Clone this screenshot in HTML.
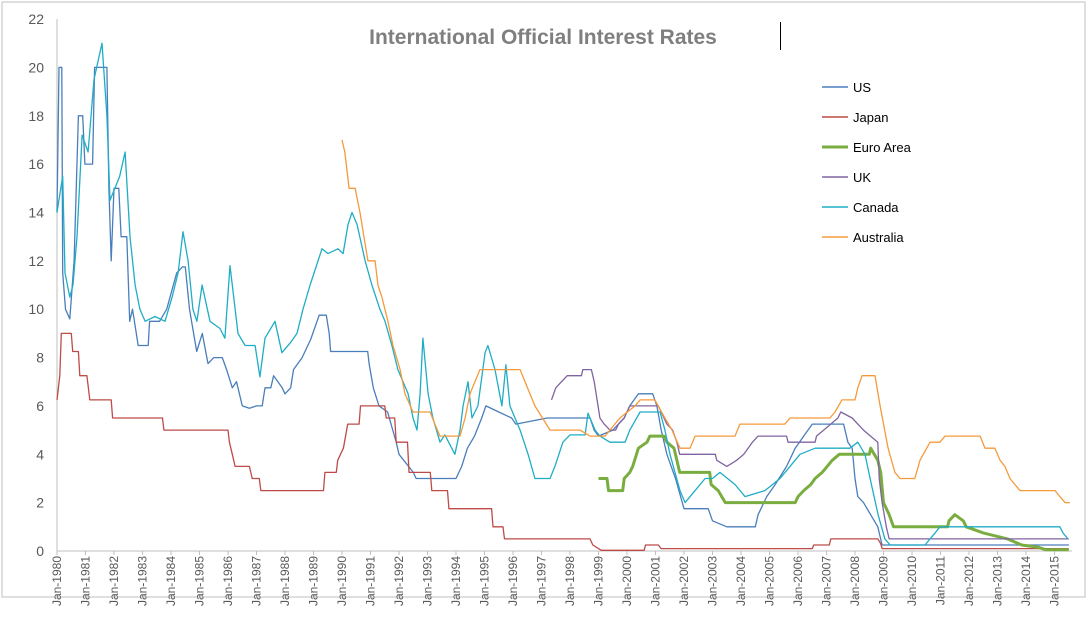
<!DOCTYPE html>
<html><head><meta charset="utf-8">
<style>
body{margin:0;background:#fff;font-family:"Liberation Sans",sans-serif;}
svg{display:block}
</style></head>
<body>
<svg id="chart" width="1089" height="627">
<rect x="2" y="2" width="1083" height="595" fill="#fff" stroke="#bfbfbf"/>
<text x="543" y="44" text-anchor="middle" font-size="21" font-weight="bold" fill="#7f7f7f">International Official Interest Rates</text>
<line x1="780.5" y1="22" x2="780.5" y2="50" stroke="#000" stroke-width="1"/>
<g id="axes"></g><g id="series"></g><g id="legend"></g>
</svg>
<script>
const yTicks=[0,2,4,6,8,10,12,14,16,18,20,22];
const xYears=[];for(let y=1980;y<=2015;y++)xYears.push(y);
const seriesNames=["US","Japan","Euro Area","UK","Canada","Australia"];
const seriesColors=["#4a7ebb","#be4b48","#7aad3f","#8064a2","#1fadc5","#f59a3c"];
const usData=[[1980,14],[1980.07,20],[1980.17,20],[1980.2,11.5],[1980.3,10],[1980.45,9.6],[1980.6,12],[1980.75,18],[1980.9,18],[1980.98,16],[1981.25,16],[1981.32,20],[1981.75,20],[1981.82,15],[1981.9,12],[1982,15],[1982.17,15],[1982.25,13],[1982.45,13],[1982.55,9.5],[1982.65,10],[1982.85,8.5],[1983.2,8.5],[1983.25,9.5],[1983.6,9.5],[1983.85,10],[1984.2,11.5],[1984.4,11.75],[1984.5,11.75],[1984.65,10],[1984.9,8.25],[1985.1,9],[1985.3,7.75],[1985.5,8],[1985.8,8],[1985.95,7.5],[1986.15,6.75],[1986.3,7],[1986.5,6],[1986.75,5.9],[1987,6],[1987.2,6],[1987.3,6.75],[1987.5,6.75],[1987.6,7.25],[1987.9,6.75],[1988,6.5],[1988.2,6.75],[1988.3,7.5],[1988.6,8],[1988.9,8.75],[1989.2,9.75],[1989.45,9.75],[1989.55,9],[1989.6,8.25],[1990.9,8.25],[1990.95,7.75],[1991.1,6.75],[1991.3,6],[1991.6,5.75],[1991.9,4.5],[1992,4],[1992.5,3.25],[1992.6,3],[1994,3],[1994.2,3.5],[1994.4,4.25],[1994.65,4.75],[1994.9,5.5],[1995.05,6],[1995.5,5.75],[1995.95,5.5],[1996.1,5.25],[1997.2,5.5],[1998.7,5.5],[1998.85,5],[1999,4.75],[1999.5,5],[1999.9,5.5],[2000.1,6],[2000.4,6.5],[2000.9,6.5],[2001.05,6],[2001.2,5],[2001.4,4],[2001.7,3],[2002,1.75],[2002.85,1.75],[2003,1.25],[2003.5,1],[2004.5,1],[2004.6,1.5],[2004.9,2.25],[2005.2,2.75],[2005.6,3.5],[2005.9,4.25],[2006.2,4.75],[2006.5,5.25],[2007.6,5.25],[2007.75,4.5],[2007.9,4.25],[2008,3],[2008.1,2.25],[2008.3,2],[2008.8,1],[2008.95,0.25],[2015.5,0.25]];
const japanData=[[1980,6.25],[1980.1,7.25],[1980.15,9],[1980.5,9],[1980.55,8.25],[1980.75,8.25],[1980.8,7.25],[1981.05,7.25],[1981.15,6.25],[1981.9,6.25],[1981.95,5.5],[1983.7,5.5],[1983.75,5],[1986,5],[1986.05,4.5],[1986.15,4],[1986.25,3.5],[1986.75,3.5],[1986.85,3],[1987.1,3],[1987.15,2.5],[1989.35,2.5],[1989.4,3.25],[1989.8,3.25],[1989.85,3.75],[1990.05,4.25],[1990.2,5.25],[1990.6,5.25],[1990.65,6],[1991.5,6],[1991.55,5.5],[1991.85,5.5],[1991.9,4.5],[1992.3,4.5],[1992.35,3.25],[1993.1,3.25],[1993.15,2.5],[1993.7,2.5],[1993.75,1.75],[1995.25,1.75],[1995.3,1],[1995.65,1],[1995.7,0.5],[1998.7,0.5],[1998.8,0.25],[1999.1,0.03],[2000.6,0.03],[2000.65,0.25],[2001.1,0.25],[2001.2,0.1],[2006.5,0.1],[2006.55,0.25],[2007.1,0.25],[2007.15,0.5],[2008.8,0.5],[2008.9,0.3],[2008.95,0.1],[2015.5,0.1]];
const euroData=[[1999,3],[1999.3,3],[1999.35,2.5],[1999.85,2.5],[1999.9,3],[2000.1,3.25],[2000.2,3.5],[2000.4,4.25],[2000.7,4.5],[2000.8,4.75],[2001.3,4.75],[2001.4,4.5],[2001.65,4.25],[2001.75,3.75],[2001.85,3.25],[2002.9,3.25],[2002.95,2.75],[2003.2,2.5],[2003.45,2],[2005.9,2],[2006,2.25],[2006.2,2.5],[2006.45,2.75],[2006.6,3],[2006.85,3.25],[2007.2,3.75],[2007.45,4],[2008.5,4],[2008.55,4.25],[2008.8,3.75],[2008.9,3.25],[2009,2],[2009.2,1.5],[2009.35,1],[2011.25,1],[2011.3,1.25],[2011.5,1.5],[2011.8,1.25],[2011.9,1],[2012.5,0.75],[2013.35,0.5],[2013.85,0.25],[2014.45,0.15],[2014.7,0.05],[2015.5,0.05]];
const ukData=[[1997.35,6.25],[1997.5,6.75],[1997.7,7],[1997.9,7.25],[1998.4,7.25],[1998.45,7.5],[1998.75,7.5],[1998.85,7],[1998.95,6.25],[1999.05,5.5],[1999.2,5.25],[1999.4,5],[1999.6,5],[1999.7,5.25],[1999.9,5.5],[2000.1,6],[2001.1,6],[2001.2,5.75],[2001.4,5.25],[2001.6,5],[2001.75,4.5],[2001.85,4],[2003.1,4],[2003.15,3.75],[2003.5,3.5],[2003.85,3.75],[2004.1,4],[2004.4,4.5],[2004.6,4.75],[2005.6,4.75],[2005.65,4.5],[2006.6,4.5],[2006.65,4.75],[2006.9,5],[2007.4,5.5],[2007.5,5.75],[2007.9,5.5],[2008.1,5.25],[2008.3,5],[2008.8,4.5],[2008.85,3],[2008.95,2],[2009.1,1],[2009.2,0.5],[2015.5,0.5]];
const canadaData=[[1980,14],[1980.2,15.5],[1980.28,11.5],[1980.45,10.5],[1980.56,11],[1980.7,13],[1980.88,17.2],[1981.09,16.5],[1981.3,19.5],[1981.58,21],[1981.75,18],[1981.86,14.5],[1982.03,15],[1982.2,15.5],[1982.39,16.5],[1982.56,13],[1982.74,11],[1982.91,10],[1983.09,9.5],[1983.44,9.7],[1983.79,9.5],[1984.04,10.5],[1984.25,11.5],[1984.42,13.2],[1984.6,12],[1984.77,10],[1984.91,9.5],[1985.09,11],[1985.37,9.5],[1985.72,9.2],[1985.89,8.8],[1986.07,11.8],[1986.35,9],[1986.6,8.5],[1986.95,8.5],[1987.12,7.2],[1987.3,8.8],[1987.65,9.5],[1987.89,8.2],[1988.18,8.6],[1988.42,9],[1988.63,10],[1988.88,11],[1989.3,12.5],[1989.51,12.3],[1989.86,12.5],[1990.04,12.3],[1990.21,13.5],[1990.35,14],[1990.53,13.5],[1990.81,12],[1991.05,11],[1991.33,10],[1991.51,9.5],[1991.75,8.5],[1991.96,7.5],[1992.32,6.5],[1992.49,5.5],[1992.63,5],[1992.74,6.5],[1992.84,8.8],[1993.02,6.5],[1993.19,5.5],[1993.44,4.5],[1993.61,4.8],[1993.96,4],[1994.14,5],[1994.25,6],[1994.42,7],[1994.56,5.5],[1994.77,6],[1995.02,8.2],[1995.12,8.5],[1995.37,7.5],[1995.61,6],[1995.75,7.7],[1995.89,6],[1996.25,5],[1996.53,4],[1996.77,3],[1997.3,3],[1997.47,3.5],[1997.75,4.5],[1998,4.8],[1998.53,4.8],[1998.63,5.7],[1998.88,5],[1999.05,4.75],[1999.4,4.5],[1999.93,4.5],[2000.1,5],[2000.46,5.75],[2001.16,5.75],[2001.33,5],[2001.51,4],[2001.86,2.5],[2002.04,2],[2002.39,2.5],[2002.74,3],[2003,3],[2003.26,3.25],[2003.79,2.75],[2004.14,2.25],[2004.84,2.5],[2005.37,3],[2005.72,3.5],[2006.07,4],[2006.6,4.25],[2007.82,4.25],[2008.1,4.5],[2008.35,4],[2008.53,3],[2008.81,1.5],[2009.05,0.5],[2009.23,0.25],[2010.46,0.25],[2010.63,0.5],[2010.81,0.75],[2010.98,1],[2015.19,1],[2015.3,0.75],[2015.47,0.5]];
const australiaData=[[1990,17],[1990.1,16.5],[1990.25,15],[1990.46,15],[1990.63,14],[1990.77,13],[1990.91,12],[1991.16,12],[1991.26,11],[1991.4,10.5],[1991.61,9.5],[1991.79,8.5],[1992.04,7.5],[1992.21,6.5],[1992.49,5.75],[1993.09,5.75],[1993.26,5.25],[1993.44,4.75],[1994.14,4.75],[1994.32,5.5],[1994.49,6.5],[1994.84,7.5],[1996.25,7.5],[1996.42,7],[1996.77,6],[1997.3,5],[1998.35,5],[1998.7,4.75],[1999.23,4.75],[1999.4,5],[1999.75,5.5],[2000.28,6],[2000.46,6.25],[2000.98,6.25],[2001.33,5.5],[2001.58,5],[2001.86,4.25],[2002.21,4.25],[2002.39,4.75],[2003.79,4.75],[2003.96,5.25],[2005.54,5.25],[2005.72,5.5],[2007.12,5.5],[2007.3,5.75],[2007.54,6.25],[2008,6.25],[2008.1,6.75],[2008.25,7.25],[2008.7,7.25],[2008.88,6],[2009.16,4.25],[2009.4,3.25],[2009.58,3],[2010.1,3],[2010.28,3.75],[2010.63,4.5],[2010.98,4.5],[2011.16,4.75],[2012.39,4.75],[2012.56,4.25],[2012.91,4.25],[2013.09,3.75],[2013.26,3.5],[2013.44,3],[2013.61,2.75],[2013.79,2.5],[2015.02,2.5],[2015.19,2.25],[2015.37,2],[2015.54,2]];
const allSeries=[usData,japanData,euroData,ukData,canadaData,australiaData];

const NS="http://www.w3.org/2000/svg";
const X0=57,PXY=28.5,Y0=551,PXU=24.18;
const xs=y=>X0+(y-1980)*PXY;
const ys=v=>Y0-v*PXU;
function mk(tag,attrs,parent){const e=document.createElementNS(NS,tag);for(const k in attrs)e.setAttribute(k,attrs[k]);parent.appendChild(e);return e;}
const axes=document.getElementById('axes');
const yAxis=mk('line',{x1:X0,y1:ys(22),x2:X0,y2:Y0,stroke:'#bfbfbf'},axes);


const xAxis=mk('line',{x1:X0,y1:Y0,x2:1072,y2:Y0,stroke:'#bfbfbf'},axes);


yTicks.forEach(v=>{
  const t=mk('text',{x:44,y:ys(v)+5,'text-anchor':'end','font-size':14,fill:'#595959'},axes);
  t.textContent=v;
  
  
});
xYears.forEach(y=>{
  const x=xs(y);
  mk('line',{x1:x,y1:Y0,x2:x,y2:Y0+4,stroke:'#bfbfbf'},axes);
  const t=mk('text',{x:0,y:0,'text-anchor':'end','font-size':12,fill:'#595959',transform:`translate(${x+4},${Y0+5}) rotate(-90)`},axes);
  t.textContent='Jan-'+y;
  
  
});
const sg=document.getElementById('series');
allSeries.forEach((d,i)=>{
  const p=mk('polyline',{points:d.map(q=>xs(q[0]).toFixed(1)+','+ys(q[1]).toFixed(1)).join(' '),fill:'none',stroke:seriesColors[i],'stroke-width':i===2?3:1.3,'stroke-linejoin':'round'},sg);
  
  
});
const lg=document.getElementById('legend');
seriesNames.forEach((n,i)=>{
  const y=87+i*30;
  const g=mk('g',{},lg);
  
  
  mk('line',{x1:822,y1:y,x2:848,y2:y,stroke:seriesColors[i],'stroke-width':i===2?3:1.5},g);
  const t=mk('text',{x:853,y:y+5,'font-size':13,fill:'#000'},g);
  t.textContent=n;
});
</script>
</body></html>
